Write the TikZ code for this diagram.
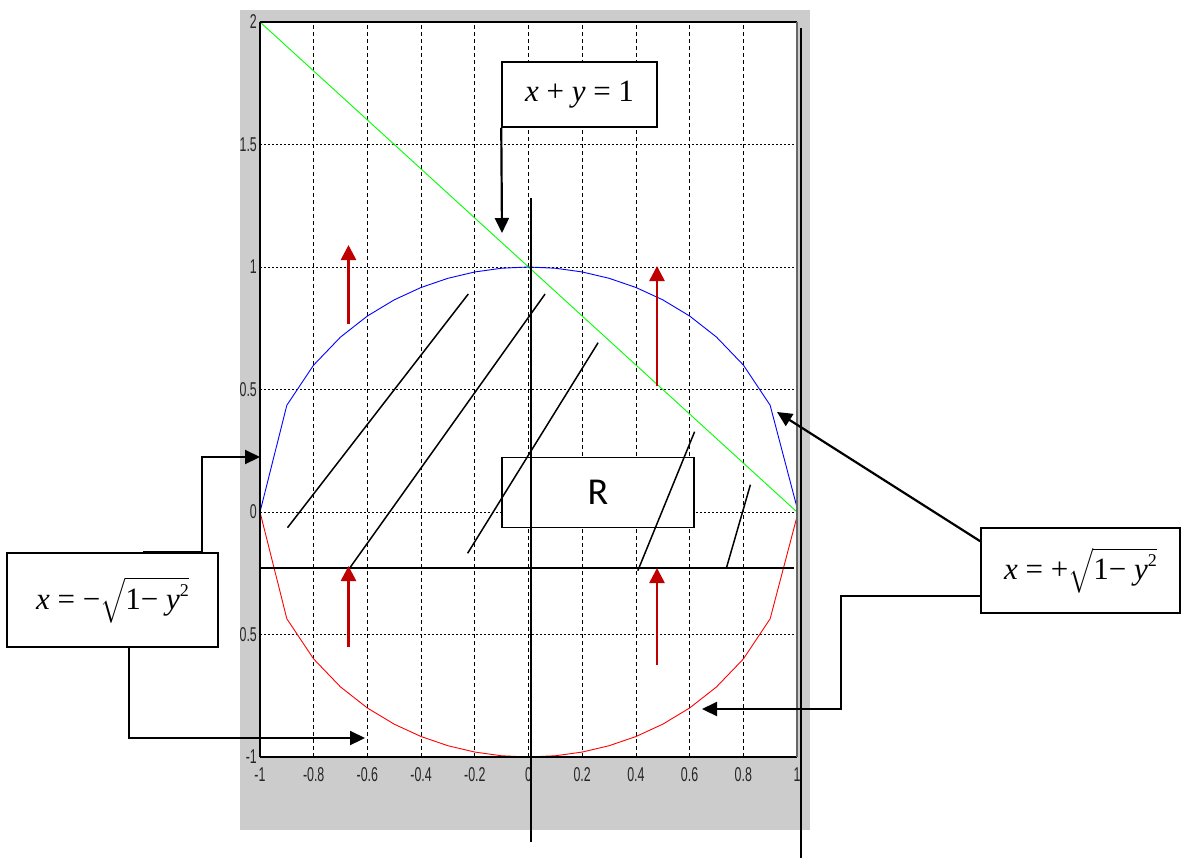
\RequirePackage{fix-cm}
\documentclass[tikz,border=0pt]{standalone}
\usepackage{exscale}
\usepackage{fontspec}
\setmainfont{Liberation Serif}
\newfontfamily\ticksfont{Liberation Sans}
\newfontfamily\rfont{Carlito}
\usetikzlibrary{arrows.meta}
\definecolor{plotgray}{RGB}{204,204,204}
\definecolor{arrred}{RGB}{192,0,0}
\definecolor{cgreen}{RGB}{0,255,0}
\definecolor{cblue}{RGB}{0,0,255}
\definecolor{cred}{RGB}{255,0,0}
\tikzset{
  ann/.style={line width=2.2pt, -{Triangle[length=15pt,width=14pt]}},
  redarr/.style={arrred, line width=2.6pt, -{Triangle[length=15pt,width=15pt]}},
  hatchline/.style={line width=1.5pt, black},
  fbox/.style={draw, fill=white, line width=1.5pt, inner sep=0pt},
  vgrid/.style={line width=0.8pt, dash pattern=on 4pt off 3pt},
  hgrid/.style={line width=0.9pt, dash pattern=on 2pt off 2pt},
  ticklab/.style={font=\ticksfont\fontsize{20}{20}\selectfont, xscale=0.62, inner sep=0pt, text=black!85},
  formula/.style={font=\fontsize{31}{34}\selectfont}
}
\newcommand{\radic}[1]{$\sqrt{\rule[-0.3em]{0pt}{1.05em}\mbox{#1}}$}
\begin{document}
\begin{tikzpicture}[x=1pt,y=-1pt]
\useasboundingbox (0,0) rectangle (1182,864);
% background
\fill[plotgray] (240,10) rectangle (810,830);
\fill[white] (260,22) rectangle (797,757);
\begin{scope}[shift={(528.5,512)}, x=268.5pt, y=245pt]
  \foreach \gx in {-0.8,-0.6,-0.4,-0.2,0,0.2,0.4,0.6,0.8}
    \draw[vgrid] (\gx,-1) -- (\gx,2);
  \foreach \gy in {-0.5,0,0.5,1,1.5}
    \draw[hgrid] (-1,\gy) -- (1,\gy);
  \draw[cgreen, line width=0.9pt] (-1,2) -- (1,0);
  \draw[cblue, line width=0.9pt] plot[domain=-1:1, samples=21] (\x,{sqrt(abs(1-\x*\x))});
  \draw[cred, line width=0.9pt] plot[domain=-1:1, samples=21] (\x,{-sqrt(abs(1-\x*\x))});
  \draw[line width=1.2pt] (-1,2) -- (1,2);
  \draw[line width=1.2pt] (-1,-1) -- (-1,2);
  \draw[line width=1.2pt] (-1,-1) -- (1,-1);
  \draw[line width=1.2pt, black!60] (1,-1) -- (1,2);
  % tick labels
  \foreach \gy/\lab in {2/2,1.5/1.5,1/1,0.5/0.5,0/0,-0.5/0.5,-1/-1}
    \node[ticklab, anchor=east] (yl\lab) at ([xshift=-3pt]-1,\gy) {\lab};
  \foreach \gx/\lab in {-1/-1,-0.8/-0.8,-0.6/-0.6,-0.4/-0.4,-0.2/-0.2,0/0,0.2/0.2,0.4/0.4,0.6/0.6,0.8/0.8,1/1}
    \node[ticklab] (xl\lab) at ([yshift=-18pt]\gx,-1) {\lab};
\end{scope}
% region label box
\node[fbox, minimum width=192pt, minimum height=70pt] (rbox) at (598,492.5) {\rfont\fontsize{38}{38}\selectfont R};
% hatch lines
\draw[hatchline] (287.5,527.7) -- (468.3,294);
\draw[hatchline] (349.5,568.3) -- (545.1,294);
\draw[hatchline] (467.6,553.3) -- (598.1,342.7);
\draw[hatchline] (637.8,570.7) -- (694.6,431.7);
\draw[hatchline] (726.6,567.3) -- (750.4,484.7);
\draw[line width=1.8pt] (260,568) -- (794,568);
% red arrows
\draw[redarr] (348.5,324) -- (348.5,245);
\draw[redarr] (657,386) -- (657,266);
\draw[redarr] (348.5,647) -- (348.5,566);
\draw[redarr] (657,665) -- (657,568);
% long vertical lines
\draw[line width=2pt] (531,198) -- (531,842);
\draw[line width=2pt] (801,28) -- (801,858);
% formula boxes
\node[fbox, minimum width=155pt, minimum height=65pt, formula] (xybox) at (579.5,94.5) {\textit{x} + \textit{y} = 1};
\node[fbox, minimum width=211pt, minimum height=94pt, formula] (lbox) at (112.5,600) {\textit{x} = −\radic{1− \textit{y}\raisebox{0.42em}{\fontsize{18}{18}\selectfont 2}}};
\node[fbox, minimum width=199pt, minimum height=85pt, formula] (rfbox) at (1080.5,570.5) {\textit{x} = +\radic{1− \textit{y}\raisebox{0.42em}{\fontsize{18}{18}\selectfont 2}}};
% connector end points
\coordinate (xytip) at (502,233);
\coordinate (ltip1) at (260,457);
\coordinate (ltip2) at (365,738);
\coordinate (rtip1) at (777,412);
\coordinate (rtip2) at (702,709);
% connectors
\draw[ann] (xybox.south west) -- (xytip);
\draw[ann] ([xshift=137pt]lbox.north west) -- ++(59,0) |- (ltip1);
\draw[ann] ([xshift=123pt]lbox.south west) |- (ltip2);
\draw[ann] ([yshift=-14pt]rfbox.north west) -- (rtip1);
\draw[ann] ([yshift=-69pt]rfbox.north west) -- ++(-139,0) |- (rtip2);
\end{tikzpicture}
\end{document}
